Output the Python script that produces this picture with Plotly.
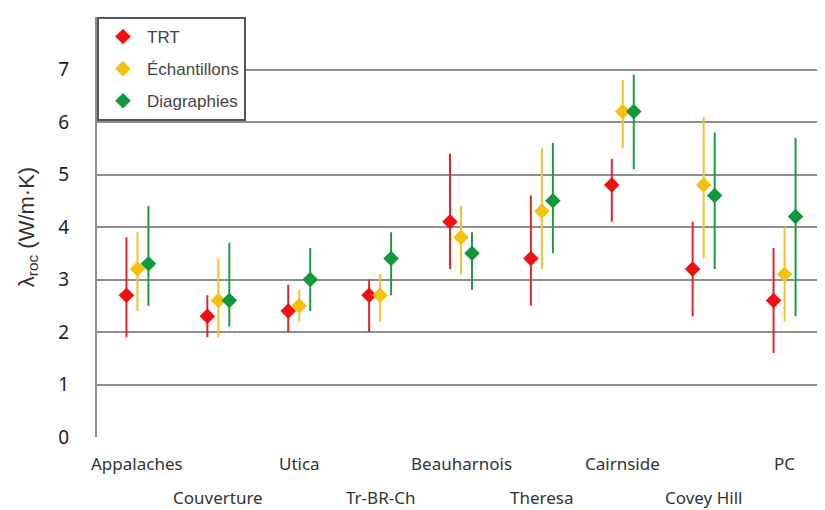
import plotly.graph_objects as go

# ---- data -------------------------------------------------------------------
categories = ["Appalaches", "Couverture", "Utica", "Tr-BR-Ch", "Beauharnois",
              "Theresa", "Cairnside", "Covey Hill", "PC"]

trt = [2.7, 2.3, 2.4, 2.7, 4.1, 3.4, 4.8, 3.2, 2.6]
trt_lo = [1.9, 1.9, 2.0, 2.0, 3.2, 2.5, 4.1, 2.3, 1.6]
trt_hi = [3.8, 2.7, 2.9, 3.0, 5.4, 4.6, 5.3, 4.1, 3.6]

ech = [3.2, 2.6, 2.5, 2.7, 3.8, 4.3, 6.2, 4.8, 3.1]
ech_lo = [2.4, 1.9, 2.2, 2.2, 3.1, 3.2, 5.5, 3.4, 2.2]
ech_hi = [3.9, 3.4, 2.8, 3.1, 4.4, 5.5, 6.8, 6.1, 4.0]

diag = [3.3, 2.6, 3.0, 3.4, 3.5, 4.5, 6.2, 4.6, 4.2]
diag_lo = [2.5, 2.1, 2.4, 2.7, 2.8, 3.5, 5.1, 3.2, 2.3]
diag_hi = [4.4, 3.7, 3.6, 3.9, 3.9, 5.6, 6.9, 5.8, 5.7]

# ---- style ------------------------------------------------------------------
GRID = "#8e8e8e"
INK = "#333333"
LEG_FONT = "Liberation Sans, Arial, sans-serif"
CAT_FONT = "Noto Sans, sans-serif"

series = [
    ("TRT", trt, trt_lo, trt_hi, "#f01010", "#e0262b", -0.136),
    ("Échantillons", ech, ech_lo, ech_hi, "#f4c20d", "#f0c232", 0.0),
    ("Diagraphies", diag, diag_lo, diag_hi, "#12983c", "#1f9a45", 0.136),
]

fig = go.Figure()
for name, vals, lo, hi, col, ecol, off in series:
    xs = [i + off for i in range(len(categories))]
    fig.add_trace(go.Scatter(
        x=xs, y=vals, mode="markers", name=name, legendgroup=name,
        marker=dict(symbol="diamond", size=12, color=col, line=dict(width=0)),
        error_y=dict(type="data", symmetric=False,
                     array=[h - v for h, v in zip(hi, vals)],
                     arrayminus=[v - l for v, l in zip(vals, lo)],
                     width=0, thickness=2, color=ecol),
    ))

# staggered category labels below the axis
for i, cat in enumerate(categories):
    fig.add_annotation(x=i, y=0, xref="x", yref="paper", text=cat, showarrow=False,
                       yanchor="middle", yshift=-26 if i % 2 == 0 else -60,
                       font=dict(family=CAT_FONT, size=17, color=INK))

# page body has an 8px margin, so the figure is sized to the visible area
fig.update_layout(
    width=817, height=502,
    margin=dict(l=89, r=0, t=9, b=73),
    paper_bgcolor="white", plot_bgcolor="white",
    showlegend=True,
    legend=dict(x=0, y=1, xanchor="left", yanchor="top",
                bgcolor="white", bordercolor="#555555", borderwidth=2,
                font=dict(family=LEG_FONT, size=17, color="#444444"),
                tracegroupgap=7, itemsizing="constant", itemwidth=38),
)
fig.update_xaxes(range=[-0.5, 8.5], showticklabels=False, showgrid=False,
                 zeroline=False, showline=False, automargin=False)
fig.update_yaxes(range=[0, 8], dtick=1, showgrid=True, gridcolor=GRID, gridwidth=2,
                 zeroline=False, showline=True, linecolor=GRID, linewidth=2,
                 ticks="", ticklabelstandoff=22, automargin=False,
                 tickfont=dict(family=CAT_FONT, size=19, color="#222222"),
                 title=dict(text="λ<sub>roc</sub> (W/m·K)", standoff=18,
                            font=dict(family=LEG_FONT, size=22, color=INK)))

fig.write_html("out.html")
